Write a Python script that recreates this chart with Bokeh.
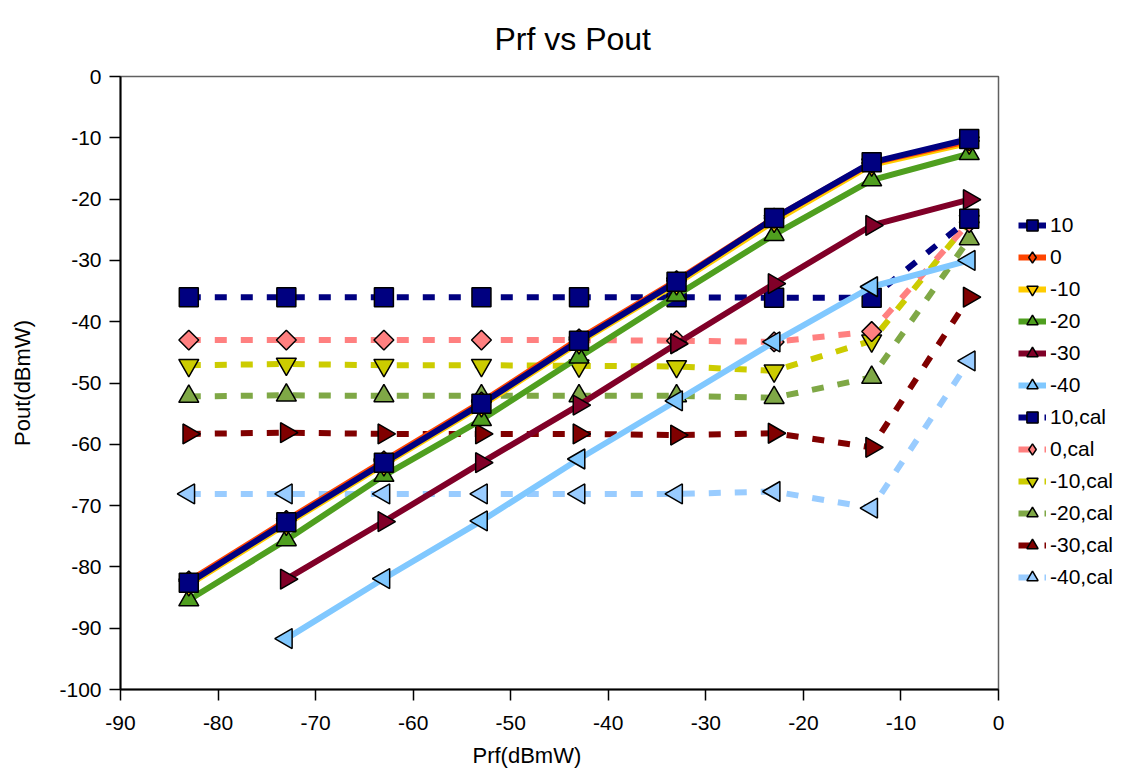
import numpy as np
from bokeh.plotting import figure
from bokeh.models import Range1d, FixedTicker, Legend, LegendItem, Title
from bokeh.embed import file_html
from bokeh.resources import INLINE

# ---------------- data ----------------
prf = [-83, -73, -63, -53, -43, -33, -23, -13, -3]
prf_short = [-73, -63, -53, -43, -33, -23, -13, -3]

pout_10 = [-82.6, -72.7, -63.0, -53.4, -43.1, -33.5, -23.1, -14.0, -10.2]
pout_0 = [-82.3, -72.4, -62.7, -53.1, -42.8, -33.3, -23.1, -14.1, -10.5]
pout_m10 = [-82.9, -73.0, -63.3, -53.7, -43.4, -33.8, -23.6, -14.4, -10.8]
pout_m20 = [-85.4, -75.6, -65.1, -56.0, -45.8, -35.7, -25.8, -16.9, -12.6]
pout_m30 = [-82.0, -72.6, -63.0, -53.6, -43.6, -33.8, -24.3, -20.1]
pout_m40 = [-91.7, -81.9, -72.5, -62.4, -52.9, -43.3, -34.3, -30.0]

cal_10 = [-36.0, -36.0, -36.0, -36.0, -36.0, -36.0, -36.1, -36.1, -23.2]
cal_0 = [-43.0, -43.0, -43.0, -43.0, -43.0, -43.1, -43.3, -41.6, -23.8]
cal_m10 = [-47.1, -46.9, -47.1, -47.1, -47.2, -47.3, -48.0, -43.1, -23.6]
cal_m20 = [-52.2, -52.0, -52.1, -52.1, -52.1, -52.1, -52.4, -49.1, -26.5]
cal_m30 = [-58.3, -58.1, -58.3, -58.3, -58.3, -58.5, -58.2, -60.5, -36.0]
cal_m40 = [-68.1, -68.1, -68.1, -68.1, -68.1, -68.1, -67.7, -70.4, -46.4]

series_names = ["10", "0", "-10", "-20", "-30", "-40",
                "10,cal", "0,cal", "-10,cal", "-20,cal", "-30,cal", "-40,cal"]
series_x = [prf, prf, prf, prf, prf_short, prf_short,
            prf, prf, prf, prf, prf, prf]
series_y = [pout_10, pout_0, pout_m10, pout_m20, pout_m30, pout_m40,
            cal_10, cal_0, cal_m10, cal_m20, cal_m30, cal_m40]

x_ticks = [-90, -80, -70, -60, -50, -40, -30, -20, -10, 0]
y_ticks = [-100, -90, -80, -70, -60, -50, -40, -30, -20, -10, 0]

title_text = "Prf vs Pout"
x_title = "Prf(dBmW)"
y_title = "Pout(dBmW)"

# ---------------- styles ----------------
FONT = "Liberation Sans"
colors = ["#000080", "#FF4500", "#FFCC00", "#4F9F1F", "#800028", "#80C8FF",
          "#000080", "#FF8080", "#CCCC00", "#7FA846", "#800000", "#99CCFF"]
markers = ["square", "diamond", "inverted_triangle", "triangle", "right", "left"] * 2
dashed = [False] * 6 + [True] * 6

marker_spec = {
    "square": ("square", 19, 0.0),
    "diamond": ("square", 14, np.pi / 4),
    "inverted_triangle": ("inverted_triangle", 20, 0.0),
    "triangle": ("triangle", 20, 0.0),
    "right": ("triangle", 20, -np.pi / 2),
    "left": ("triangle", 20, np.pi / 2),
}

p = figure(frame_width=878, frame_height=613,
           x_range=Range1d(-90, 0), y_range=Range1d(-100, 0),
           output_backend="svg", toolbar_location=None,
           min_border_left=120, min_border_right=137,
           min_border_top=76, min_border_bottom=89)
p.grid.visible = False
p.background_fill_color = "white"
p.border_fill_color = "white"
p.outline_line_color = "#606060"
p.outline_line_width = 1.5

p.title.text = title_text
p.title.align = "left"
p.title.offset = 374
p.title.vertical_align = "top"
p.title.standoff = 36
p.title.text_font = FONT
p.title.text_font_size = "32px"
p.title.text_font_style = "normal"
p.title.text_color = "black"

for ax, ticks, standoff in ((p.xaxis, x_ticks, 15), (p.yaxis, y_ticks, 8)):
    ax.ticker = FixedTicker(ticks=ticks)
    ax.major_label_overrides = {t: str(t) for t in ticks}
    ax.major_tick_out = 11
    ax.major_tick_in = 0
    ax.minor_tick_out = 0
    ax.minor_tick_in = 0
    ax.major_tick_line_color = "black"
    ax.major_tick_line_width = 1.5
    ax.axis_line_color = "black"
    ax.axis_line_width = 2
    ax.major_label_text_font = FONT
    ax.major_label_text_font_size = "21px"
    ax.major_label_text_color = "black"
    ax.major_label_standoff = standoff

p.yaxis.axis_label = y_title
p.yaxis.axis_label_text_font = FONT
p.yaxis.axis_label_text_font_size = "22px"
p.yaxis.axis_label_text_font_style = "normal"
p.yaxis.axis_label_text_color = "black"
p.yaxis.axis_label_standoff = 21

p.add_layout(Title(text=x_title, align="left", offset=352,
                   vertical_align="bottom", standoff=16,
                   text_font=FONT, text_font_size="22px",
                   text_font_style="normal", text_color="black"), "below")

renderers = {}
for i in reversed(range(len(series_names))):
    mk, size, ang = marker_spec[markers[i]]
    lr = p.line(series_x[i], series_y[i], line_color=colors[i], line_width=6,
                line_dash="12 14" if dashed[i] else "solid",
                line_join="round")
    leg = [lr]
    if markers[i] == "diamond":
        # plain diamond glyph (for the legend), fully covered by the marker above
        leg.append(p.scatter(series_x[i], series_y[i], marker="diamond", size=18,
                             fill_color=colors[i], line_color="black",
                             line_width=1.5))
    sr = p.scatter(series_x[i], series_y[i], marker=mk, size=size, angle=ang,
                   fill_color=colors[i], line_color="black", line_width=1.5)
    if len(leg) == 1:
        leg.append(sr)
    renderers[i] = leg

items = [LegendItem(label=series_names[i], renderers=renderers[i])
         for i in range(len(series_names))]
legend = Legend(items=items, location="left", title=" ",
                title_text_font_size="21px", title_standoff=12,
                border_line_color=None, background_fill_alpha=0,
                padding=0, margin=20, glyph_width=28, glyph_height=30,
                label_height=30, spacing=2, label_standoff=4,
                label_text_font=FONT, label_text_font_size="21px",
                label_text_color="black")
p.add_layout(legend, "right")

open("out.html", "w").write(file_html(p, INLINE))
